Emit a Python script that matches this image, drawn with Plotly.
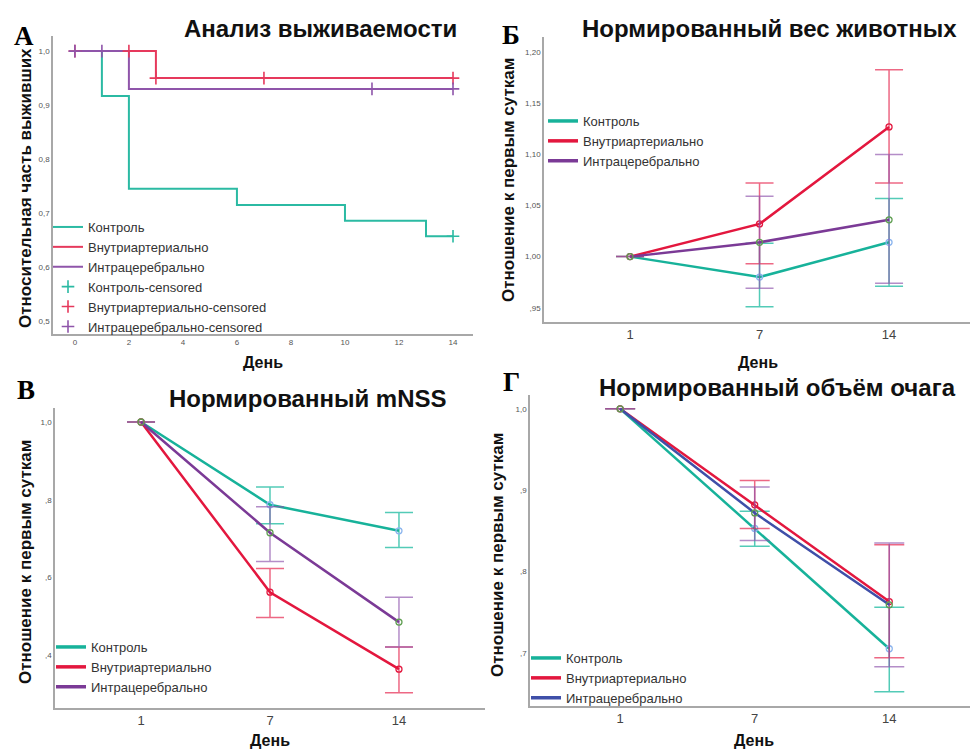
import plotly.graph_objects as go

W, H = 971, 749

# ---------------- data ----------------
# Panel A: Kaplan-Meier survival
km_ctrl_days = [0, 1, 2, 6, 10, 13, 14]
km_ctrl_surv = [1.0, 0.917, 0.745, 0.715, 0.686, 0.657, 0.657]
km_ia_days = [0, 3, 14]
km_ia_surv = [1.0, 0.95, 0.95]
km_ic_days = [0, 2, 14]
km_ic_surv = [1.0, 0.93, 0.93]
cens_ctrl_days = [14]
cens_ctrl_surv = [0.657]
cens_ia_days = [0, 2, 3, 7, 14]
cens_ia_surv = [1.0, 1.0, 0.95, 0.95, 0.95]
cens_ic_days = [0, 1, 11, 14]
cens_ic_surv = [1.0, 1.0, 0.93, 0.93]

days = ["1", "7", "14"]
groups = ["Контроль", "Внутриартериально", "Интрацеребрально"]

# Panel Б: normalized weight (mean, upper CI, lower CI)
w_ctrl = [1.0, 0.980, 1.014]
w_ctrl_hi = [1.0, 1.013, 1.057]
w_ctrl_lo = [1.0, 0.951, 0.971]
w_ia = [1.0, 1.032, 1.127]
w_ia_hi = [1.0, 1.072, 1.183]
w_ia_lo = [1.0, 0.993, 1.072]
w_ic = [1.0, 1.014, 1.036]
w_ic_hi = [1.0, 1.059, 1.100]
w_ic_lo = [1.0, 0.969, 0.974]

# Panel В: normalized mNSS
m_ctrl = [1.0, 0.787, 0.720]
m_ctrl_hi = [1.0, 0.833, 0.767]
m_ctrl_lo = [1.0, 0.738, 0.677]
m_ia = [1.0, 0.562, 0.364]
m_ia_hi = [1.0, 0.623, 0.421]
m_ia_lo = [1.0, 0.497, 0.303]
m_ic = [1.0, 0.715, 0.485]
m_ic_hi = [1.0, 0.782, 0.549]
m_ic_lo = [1.0, 0.641, 0.421]

# Panel Г: normalized lesion volume
v_ctrl = [1.0, 0.853, 0.705]
v_ctrl_hi = [1.0, 0.874, 0.756]
v_ctrl_lo = [1.0, 0.831, 0.652]
v_ia = [1.0, 0.882, 0.763]
v_ia_hi = [1.0, 0.912, 0.833]
v_ia_lo = [1.0, 0.853, 0.694]
v_ic = [1.0, 0.872, 0.759]
v_ic_hi = [1.0, 0.904, 0.835]
v_ic_lo = [1.0, 0.838, 0.683]

# ---------------- styles ----------------
TEAL = "#17b29a"
RED = "#e3173e"
PURPLE = "#7b3a96"
BLUE = "#3f4fa8"
KM_TEAL = "#2bbaa3"
KM_RED = "#e6395c"
KM_PURPLE = "#8f55aa"
ERR = {"teal": "rgba(40,190,165,0.8)", "red": "rgba(230,40,80,0.7)", "purple": "rgba(140,80,170,0.65)"}
MK = {"teal": "#8ab4ee", "red": "#e3173e", "purple": "#5e9e50"}
FONT = "Liberation Sans, Arial, sans-serif"
SERIF = "Liberation Serif, Times New Roman, serif"


def px(x):
    return x / W


def py(y):
    return 1 - y / H


fig = go.Figure()

# ---- Panel A ----
for d, s, c, name in [(km_ctrl_days, km_ctrl_surv, KM_TEAL, groups[0]),
                      (km_ia_days, km_ia_surv, KM_RED, groups[1]),
                      (km_ic_days, km_ic_surv, KM_PURPLE, groups[2])]:
    fig.add_trace(go.Scatter(x=d, y=s, mode="lines", line=dict(color=c, width=2, shape="hv"),
                             name=name, legend="legend", xaxis="x", yaxis="y"))
for d, s, c, name in [(cens_ctrl_days, cens_ctrl_surv, KM_TEAL, groups[0] + "-censored"),
                      (cens_ia_days, cens_ia_surv, KM_RED, groups[1] + "-censored"),
                      (cens_ic_days, cens_ic_surv, KM_PURPLE, groups[2] + "-censored")]:
    fig.add_trace(go.Scatter(x=d, y=s, mode="markers",
                             marker=dict(symbol="cross-thin", size=9, line=dict(color=c, width=1.6)),
                             name=name, legend="legend", xaxis="x", yaxis="y"))


def add_lines(xa, ya, leg, series, cap):
    for mean, hi, lo, lc, ec, mc, name in series:
        # legend-only entry (plain line icon)
        fig.add_trace(go.Scatter(x=[None], y=[None], mode="lines", name=name, legend=leg,
                                 legendgroup=leg + name, xaxis=xa, yaxis=ya,
                                 line=dict(color=lc, width=3.5)))
        fig.add_trace(go.Scatter(
            x=days, y=mean, mode="lines+markers", name=name, legend=leg, showlegend=False,
            legendgroup=leg + name, xaxis=xa, yaxis=ya,
            line=dict(color=lc, width=2.5),
            marker=dict(symbol="circle-open", size=6, color=mc, line=dict(width=1.3)),
            error_y=dict(type="data", symmetric=False,
                         array=[h - m for h, m in zip(hi, mean)],
                         arrayminus=[m - l for m, l in zip(mean, lo)],
                         color=ec, thickness=1.5, width=cap),
        ))


add_lines("x2", "y2", "legend2", [
    (w_ctrl, w_ctrl_hi, w_ctrl_lo, TEAL, ERR["teal"], MK["teal"], groups[0]),
    (w_ia, w_ia_hi, w_ia_lo, RED, ERR["red"], MK["red"], groups[1]),
    (w_ic, w_ic_hi, w_ic_lo, PURPLE, ERR["purple"], MK["purple"], groups[2]),
], 14)
add_lines("x3", "y3", "legend3", [
    (m_ctrl, m_ctrl_hi, m_ctrl_lo, TEAL, ERR["teal"], MK["teal"], groups[0]),
    (m_ia, m_ia_hi, m_ia_lo, RED, ERR["red"], MK["red"], groups[1]),
    (m_ic, m_ic_hi, m_ic_lo, PURPLE, ERR["purple"], MK["purple"], groups[2]),
], 14)
add_lines("x4", "y4", "legend4", [
    (v_ctrl, v_ctrl_hi, v_ctrl_lo, TEAL, ERR["teal"], MK["teal"], groups[0]),
    (v_ia, v_ia_hi, v_ia_lo, RED, ERR["red"], MK["red"], groups[1]),
    (v_ic, v_ic_hi, v_ic_lo, BLUE, ERR["purple"], MK["purple"], groups[2]),
], 15)

axis_common = dict(showline=True, linecolor="#a8a8a8", linewidth=1.5, showgrid=False,
                   zeroline=False, ticks="", fixedrange=True)
small_tick = dict(size=8, color="#555", family=FONT)
big_tick = dict(size=13, color="#444", family=FONT)

cat_x = dict(type="category", tickfont=big_tick, **axis_common)

fig.update_layout(
    width=W, height=H, margin=dict(l=0, r=0, t=0, b=0),
    paper_bgcolor="white", plot_bgcolor="white",
    font=dict(family=FONT),
    # Panel A axes
    xaxis=dict(domain=[px(53), px(473)], anchor="y", range=[-0.81, 14.74],
               tickvals=[0, 2, 4, 6, 8, 10, 12, 14], tickfont=small_tick, **axis_common),
    yaxis=dict(domain=[py(334), py(36)], anchor="x", range=[0.476, 1.028],
               tickvals=[0.5, 0.6, 0.7, 0.8, 0.9, 1.0],
               ticktext=["0,5", "0,6", "0,7", "0,8", "0,9", "1,0"], tickfont=small_tick, **axis_common),
    # Panel Б axes
    xaxis2=dict(domain=[px(544), px(970)], anchor="y2", range=[-0.664, 2.625], **cat_x),
    yaxis2=dict(domain=[py(322), py(37)], anchor="x2", range=[0.936, 1.215],
                tickvals=[0.95, 1.0, 1.05, 1.10, 1.15, 1.20],
                ticktext=[",95", "1,00", "1,05", "1,10", "1,15", "1,20"], tickfont=small_tick, **axis_common),
    # Panel В axes
    xaxis3=dict(domain=[px(55), px(485)], anchor="y3", range=[-0.667, 2.667], **cat_x),
    yaxis3=dict(domain=[py(708), py(408)], anchor="x3", range=[0.264, 1.036],
                tickvals=[0.4, 0.6, 0.8, 1.0], ticktext=[",4", ",6", ",8", "1,0"],
                tickfont=small_tick, **axis_common),
    # Panel Г axes
    xaxis4=dict(domain=[px(530), px(970)], anchor="y4", range=[-0.67, 2.60], **cat_x),
    yaxis4=dict(domain=[py(706), py(395)], anchor="x4", range=[0.6346, 1.017],
                tickvals=[0.7, 0.8, 0.9, 1.0], ticktext=[",7", ",8", ",9", "1,0"],
                tickfont=small_tick, **axis_common),
)

leg_common = dict(xanchor="left", yanchor="top", bgcolor="rgba(0,0,0,0)",
                  font=dict(size=13, color="#333", family=FONT), itemwidth=30,
                  tracegroupgap=0)
fig.update_layout(
    legend=dict(x=px(48), y=py(212), **leg_common),
    legend2=dict(x=px(543), y=py(106), **leg_common),
    legend3=dict(x=px(51), y=py(632), **leg_common),
    legend4=dict(x=px(526), y=py(643), **leg_common),
)

ann = []


def text(x, y, s, size, bold=True, angle=0, family=FONT, color="#111"):
    ann.append(dict(x=px(x), y=py(y), xref="paper", yref="paper", text=(f"<b>{s}</b>" if bold else s),
                    showarrow=False, textangle=angle, xanchor="center", yanchor="middle",
                    font=dict(size=size, family=family, color=color)))


# panel titles
text(320, 28, "Анализ выживаемости", 24)
text(769, 28, "Нормированный вес животных", 24)
text(308, 398, "Нормированный mNSS", 24)
text(777, 387, "Нормированный объём очага", 24)
# panel letters
text(24, 36, "A", 27, family=SERIF, color="#000")
text(511, 35, "Б", 27, family=SERIF, color="#000")
text(26, 390, "В", 27, family=SERIF, color="#000")
text(511, 382, "Г", 27, family=SERIF, color="#000")
# axis titles
text(263, 362, "День", 16)
text(758, 362, "День", 16)
text(270, 740, "День", 16)
text(754, 740, "День", 16)
text(25, 188, "Относительная часть выживших", 17, angle=-90)
text(508, 180, "Отношение к первым суткам", 17, angle=-90)
text(25, 562, "Отношение к первым суткам", 17, angle=-90)
text(497, 555, "Отношение к первым суткам", 17, angle=-90)
fig.update_layout(annotations=ann)

fig.write_html("out.html", config={"displayModeBar": False},
               post_script="document.body.style.margin='0px';")
